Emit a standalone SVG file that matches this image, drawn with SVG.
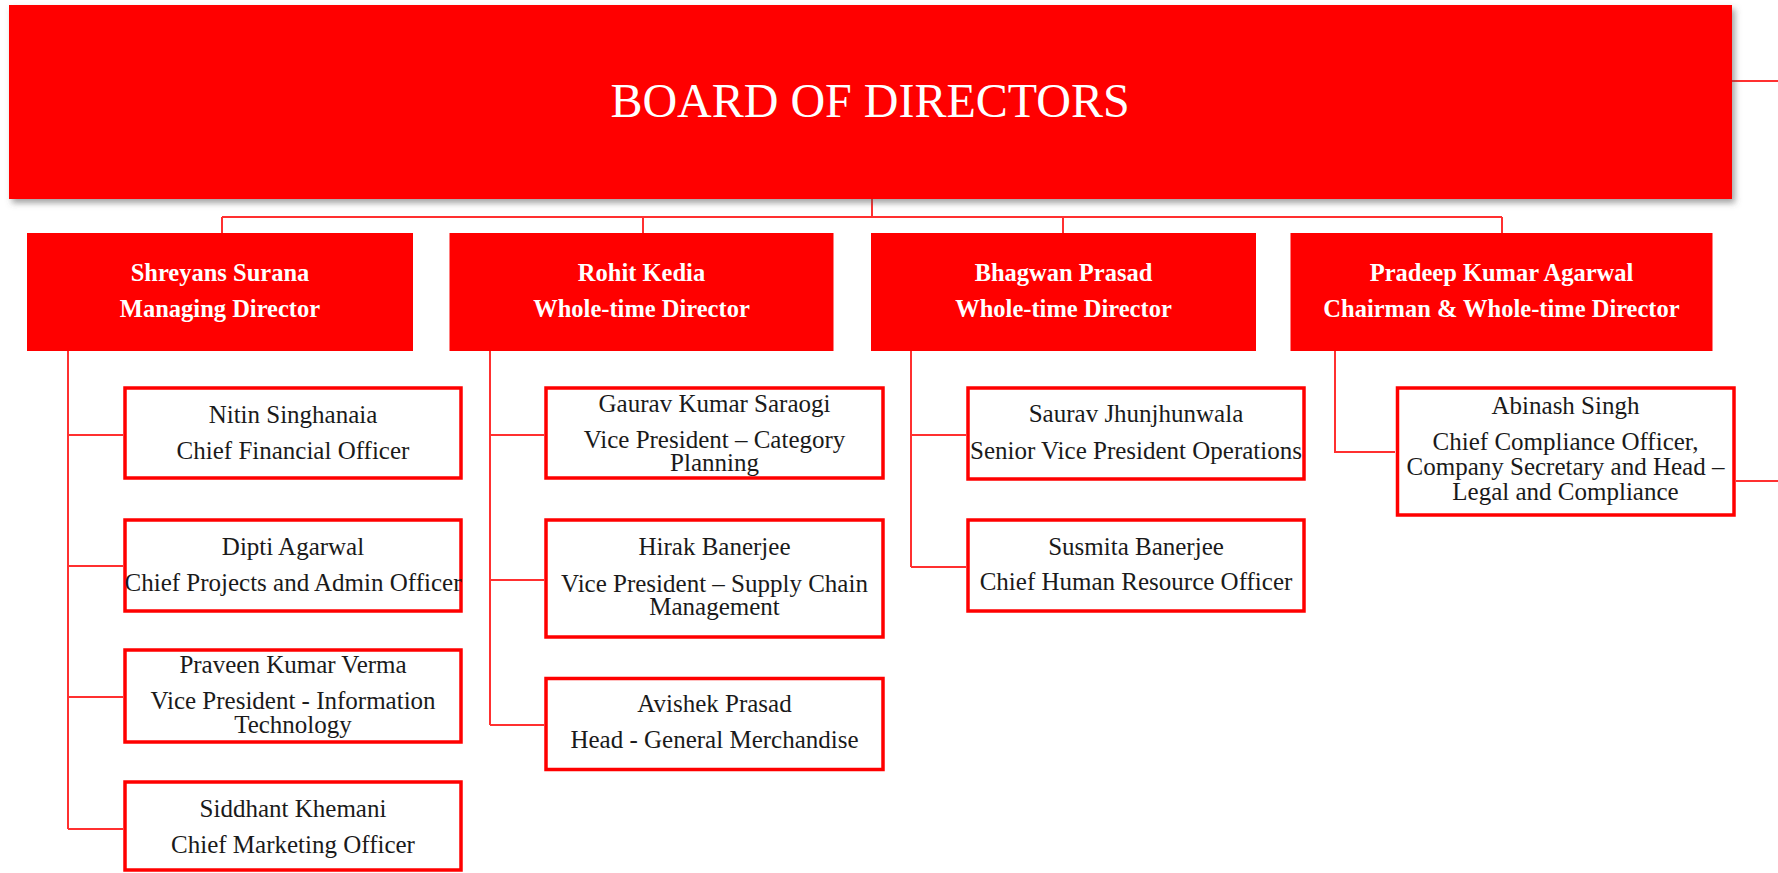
<svg xmlns="http://www.w3.org/2000/svg" width="1778" height="873" viewBox="0 0 1778 873">
<style>
.bg{fill:#ffffff}
.board{fill:#ff0000}
.l2{fill:#ff0000}
.l3{fill:#ffffff;stroke:#ff0000;stroke-width:3.5}
text{font-family:'Liberation Serif','Tinos','Times New Roman','DejaVu Serif',serif;text-anchor:middle}
.t1{font-size:48px;fill:#ffffff}
.t2{font-size:24.5px;font-weight:bold;fill:#ffffff}
.t3{font-size:25px;fill:#1a1a1a}
.c{fill:none;stroke:#ff3030;stroke-width:2}
</style>
<defs>
<filter id="sh" x="-5%" y="-10%" width="110%" height="130%">
<feDropShadow dx="3" dy="4" stdDeviation="3" flood-color="#555555" flood-opacity="0.55"/>
</filter>
</defs>
<rect class="bg" x="0" y="0" width="1778" height="873"/>
<g id="connectors">
<path class="c" d="M872 199 V217 M222 217 H1502 M222 217 V233 M643 217 V233 M1063 217 V233 M1502 217 V233"/>
<path class="c" d="M68 351 V829 M68 435 H123 M68 566 H123 M68 697 H123 M68 829 H123"/>
<path class="c" d="M490 351 V725 M490 435 H544 M490 580 H544 M490 725 H544"/>
<path class="c" d="M911 351 V567 M911 435 H966 M911 567 H966"/>
<path class="c" d="M1335 351 V452 H1395"/>
<path class="c" d="M1732 81 H1778 M1736 481 H1778"/>
</g>
<g id="board">
<rect class="board" x="9" y="5" width="1723" height="194" filter="url(#sh)"/>
<text class="t1" x="870" y="117" font-family="Liberation Serif, serif">BOARD OF DIRECTORS</text>
</g>
<g id="shreyans">
<rect class="l2" x="27" y="233" width="386" height="118"/>
<text class="t2" x="220" y="281">Shreyans Surana</text>
<text class="t2" x="220" y="317">Managing Director</text>
</g>
<g id="rohit">
<rect class="l2" x="449.5" y="233" width="384" height="118"/>
<text class="t2" x="641.5" y="281">Rohit Kedia</text>
<text class="t2" x="641.5" y="317">Whole-time Director</text>
</g>
<g id="bhagwan">
<rect class="l2" x="871" y="233" width="385" height="118"/>
<text class="t2" x="1063.5" y="281">Bhagwan Prasad</text>
<text class="t2" x="1063.5" y="317">Whole-time Director</text>
</g>
<g id="pradeep">
<rect class="l2" x="1290.5" y="233" width="422" height="118"/>
<text class="t2" x="1501.5" y="281">Pradeep Kumar Agarwal</text>
<text class="t2" x="1501.5" y="317">Chairman &amp; Whole-time Director</text>
</g>
<g id="nitin">
<rect class="l3" x="125" y="388" width="336" height="90"/>
<text class="t3" x="293" y="422.5">Nitin Singhanaia</text>
<text class="t3" x="293" y="459">Chief Financial Officer</text>
</g>
<g id="dipti">
<rect class="l3" x="125" y="520" width="336" height="91"/>
<text class="t3" x="293" y="555">Dipti Agarwal</text>
<text class="t3" x="293" y="591">Chief Projects and Admin Officer</text>
</g>
<g id="praveen">
<rect class="l3" x="125" y="650" width="336" height="92"/>
<text class="t3" x="293" y="673">Praveen Kumar Verma</text>
<text class="t3" x="293" y="709">Vice President - Information</text>
<text class="t3" x="293" y="732.5">Technology</text>
</g>
<g id="siddhant">
<rect class="l3" x="125" y="782" width="336" height="88"/>
<text class="t3" x="293" y="816.5">Siddhant Khemani</text>
<text class="t3" x="293" y="852.5">Chief Marketing Officer</text>
</g>
<g id="gaurav">
<rect class="l3" x="546" y="388" width="337" height="90"/>
<text class="t3" x="714.5" y="411.5">Gaurav Kumar Saraogi</text>
<text class="t3" x="714.5" y="448">Vice President – Category</text>
<text class="t3" x="714.5" y="471">Planning</text>
</g>
<g id="hirak">
<rect class="l3" x="546" y="520" width="337" height="117"/>
<text class="t3" x="714.5" y="555">Hirak Banerjee</text>
<text class="t3" x="714.5" y="591.5">Vice President – Supply Chain</text>
<text class="t3" x="714.5" y="614.5">Management</text>
</g>
<g id="avishek">
<rect class="l3" x="546" y="678.5" width="337" height="91"/>
<text class="t3" x="714.5" y="712">Avishek Prasad</text>
<text class="t3" x="714.5" y="748">Head - General Merchandise</text>
</g>
<g id="saurav">
<rect class="l3" x="968" y="388" width="336" height="91"/>
<text class="t3" x="1136" y="421.5">Saurav Jhunjhunwala</text>
<text class="t3" x="1136" y="458.5">Senior Vice President Operations</text>
</g>
<g id="susmita">
<rect class="l3" x="968" y="520" width="336" height="91"/>
<text class="t3" x="1136" y="554.5">Susmita Banerjee</text>
<text class="t3" x="1136" y="590">Chief Human Resource Officer</text>
</g>
<g id="abinash">
<rect class="l3" x="1397.5" y="388" width="336.5" height="127"/>
<text class="t3" x="1565.5" y="414">Abinash Singh</text>
<text class="t3" x="1565.5" y="450">Chief Compliance Officer,</text>
<text class="t3" x="1565.5" y="475">Company Secretary and Head –</text>
<text class="t3" x="1565.5" y="500">Legal and Compliance</text>
</g>
</svg>
